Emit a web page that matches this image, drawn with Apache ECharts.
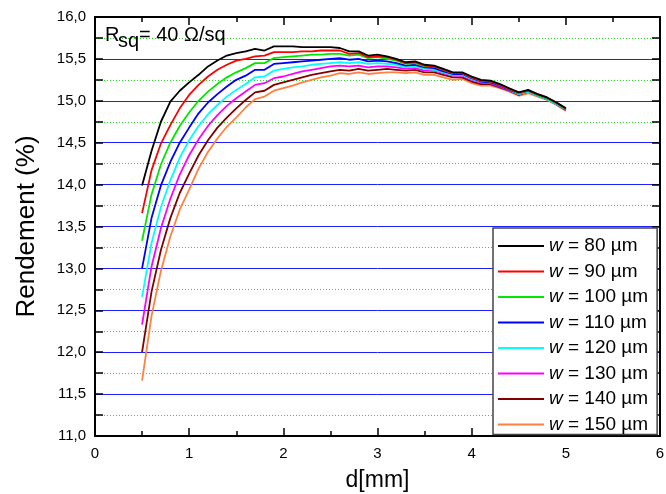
<!DOCTYPE html>
<html>
<head>
<meta charset="utf-8">
<script src="https://cdn.jsdelivr.net/npm/echarts@6/dist/echarts.min.js"></script>
<style>
  html, body { margin: 0; padding: 0; background: #fff; }
  #chart { width: 666px; height: 494px; }
</style>
</head>
<body>
<div id="chart"></div>
<script>
// Finger spacing d [mm]
const spacing = [0.5,0.6,0.7,0.8,0.9,1.0,1.1,1.2,1.3,1.4,1.5,1.6,1.7,1.8,1.9,2.0,2.1,2.2,2.3,2.4,2.5,2.6,2.7,2.8,2.9,3.0,3.1,3.2,3.3,3.4,3.5,3.6,3.7,3.8,3.9,4.0,4.1,4.2,4.3,4.4,4.5,4.6,4.7,4.8,4.9,5.0];

// Finger widths w [µm]
const widths = [80, 90, 100, 110, 120, 130, 140, 150];

// Efficiency (%) for each finger width
const eta80  = [13.99,14.40,14.75,14.99,15.12,15.22,15.31,15.41,15.48,15.54,15.57,15.59,15.62,15.60,15.65,15.65,15.65,15.64,15.64,15.64,15.64,15.63,15.59,15.59,15.54,15.55,15.53,15.50,15.46,15.47,15.43,15.42,15.38,15.34,15.34,15.29,15.25,15.24,15.20,15.15,15.10,15.13,15.08,15.04,14.98,14.91];
const eta90  = [13.66,14.17,14.49,14.71,14.91,15.07,15.19,15.29,15.37,15.43,15.48,15.50,15.53,15.54,15.58,15.58,15.58,15.59,15.59,15.60,15.60,15.60,15.56,15.57,15.52,15.53,15.52,15.49,15.45,15.46,15.42,15.41,15.37,15.33,15.33,15.28,15.24,15.23,15.19,15.14,15.10,15.12,15.08,15.04,14.98,14.91];
const eta100 = [13.33,13.88,14.24,14.50,14.70,14.86,15.00,15.11,15.20,15.28,15.34,15.39,15.45,15.45,15.51,15.52,15.53,15.54,15.55,15.55,15.56,15.56,15.54,15.55,15.51,15.52,15.50,15.48,15.44,15.45,15.41,15.41,15.37,15.33,15.33,15.28,15.24,15.23,15.19,15.14,15.09,15.12,15.07,15.03,14.97,14.90];
const eta110 = [13.00,13.60,13.99,14.27,14.50,14.68,14.85,14.98,15.08,15.17,15.25,15.30,15.37,15.37,15.44,15.45,15.46,15.47,15.48,15.49,15.50,15.51,15.49,15.50,15.47,15.48,15.47,15.45,15.42,15.43,15.40,15.39,15.35,15.32,15.32,15.27,15.23,15.22,15.18,15.13,15.09,15.12,15.07,15.03,14.97,14.90];
const eta120 = [12.66,13.30,13.73,14.05,14.32,14.53,14.70,14.84,14.95,15.05,15.13,15.20,15.28,15.29,15.36,15.38,15.40,15.41,15.43,15.44,15.45,15.46,15.45,15.46,15.44,15.45,15.44,15.43,15.40,15.41,15.38,15.37,15.34,15.31,15.31,15.26,15.23,15.22,15.18,15.13,15.08,15.11,15.06,15.02,14.96,14.90];
const eta130 = [12.33,13.02,13.48,13.83,14.12,14.35,14.54,14.70,14.83,14.94,15.03,15.11,15.19,15.21,15.27,15.29,15.32,15.35,15.37,15.39,15.41,15.42,15.41,15.42,15.40,15.41,15.41,15.40,15.38,15.39,15.36,15.36,15.33,15.30,15.30,15.25,15.22,15.21,15.17,15.12,15.08,15.11,15.06,15.02,14.96,14.89];
const eta140 = [12.00,12.72,13.22,13.60,13.90,14.13,14.35,14.53,14.68,14.80,14.91,15.01,15.10,15.12,15.19,15.22,15.25,15.28,15.31,15.33,15.35,15.37,15.36,15.38,15.36,15.37,15.38,15.37,15.36,15.37,15.34,15.34,15.31,15.28,15.28,15.23,15.20,15.20,15.16,15.12,15.07,15.11,15.06,15.02,14.96,14.89];
const eta150 = [11.66,12.43,12.97,13.38,13.70,13.94,14.19,14.39,14.55,14.69,14.80,14.92,15.02,15.05,15.12,15.15,15.18,15.22,15.25,15.28,15.30,15.33,15.32,15.34,15.32,15.33,15.34,15.34,15.33,15.34,15.31,15.31,15.28,15.25,15.26,15.21,15.18,15.18,15.15,15.11,15.06,15.09,15.05,15.01,14.95,14.88];

const efficiency = [eta80, eta90, eta100, eta110, eta120, eta130, eta140, eta150];
const lineColors = ['#000000', '#ff0000', '#00e800', '#0000ff', '#00ffff', '#ff00ff', '#800000', '#ff8040'];

const FONT = '"Liberation Sans", Arial, sans-serif';

const series = widths.map((w, i) => ({
  name: 'w = ' + w + ' \u00b5m',
  type: 'line',
  xAxisIndex: 0,
  yAxisIndex: 0,
  data: spacing.map((d, k) => [d, efficiency[i][k]]),
  symbol: 'none',
  showSymbol: false,
  color: lineColors[i],
  lineStyle: { width: 1.8, color: lineColors[i] },
  z: 3 + (widths.length - i)
}));

const frameAxis = {
  axisLine: { show: true, onZero: false, lineStyle: { color: '#000', width: 2 } },
  axisTick: { show: true, inside: true, length: 8, lineStyle: { color: '#000', width: 1.5 } },
  minorTick: { show: true, splitNumber: 2, length: 5, lineStyle: { color: '#000', width: 1.5 } }
};
const yMinorTick = { minorTick: { show: true, splitNumber: 2, length: 8, lineStyle: { color: '#000', width: 1.5 } } };

const chart = echarts.init(document.getElementById('chart'), null, { renderer: 'canvas' });
chart.setOption({
  animation: false,
  backgroundColor: '#fff',
  textStyle: { fontFamily: FONT },
  grid: { left: 95, top: 17, right: 6, bottom: 58, containLabel: false, outerBoundsMode: 'none' },
  xAxis: [
    Object.assign({
      type: 'value', min: 0, max: 6, interval: 1, position: 'bottom',
      name: 'd[mm]', nameLocation: 'middle', nameGap: 33,
      nameTextStyle: { fontSize: 23, color: '#000', fontFamily: FONT },
      axisLabel: { fontSize: 15, color: '#000', margin: 10, fontFamily: FONT },
      splitLine: { show: false }
    }, frameAxis),
    Object.assign({
      type: 'value', min: 0, max: 6, interval: 1, position: 'top',
      axisLabel: { show: false }, splitLine: { show: false }
    }, frameAxis)
  ],
  yAxis: [
    Object.assign({
      type: 'value', min: 11, max: 16, interval: 0.5, position: 'left',
      name: 'Rendement (%)', nameLocation: 'middle', nameGap: 55, nameRotate: 90,
      nameTextStyle: { fontSize: 26, color: '#000', fontFamily: FONT },
      axisLabel: {
        fontSize: 15, color: '#000', margin: 9, fontFamily: FONT,
        formatter: v => v.toFixed(1).replace('.', ',')
      },
      splitLine: { show: true, showMinLine: false, showMaxLine: false, lineStyle: { color: '#2020ff', width: 1 } },
      minorSplitLine: { show: true, lineStyle: { color: '#22dd22', width: 1, type: [1, 2] } }
    }, frameAxis, yMinorTick),
    Object.assign({
      type: 'value', min: 11, max: 16, interval: 0.5, position: 'right',
      axisLabel: { show: false }, splitLine: { show: false }
    }, frameAxis, yMinorTick)
  ],
  legend: {
    orient: 'vertical',
    left: 493, top: 228,
    padding: [8, 9, 0, 5],
    itemGap: 5.5,
    itemWidth: 46,
    itemHeight: 2,
    icon: 'rect',
    backgroundColor: '#fff',
    borderColor: '#444',
    borderWidth: 1.5,
    borderRadius: 0,
    data: series.map(s => s.name),
    formatter: name => '{i|w}' + name.slice(1),
    textStyle: {
      fontSize: 19, color: '#000', lineHeight: 20, fontFamily: FONT,
      rich: { i: { fontStyle: 'italic', fontSize: 19, color: '#000', fontFamily: FONT, lineHeight: 20 } }
    }
  },
  graphic: [
    { type: 'text', left: 105, top: 25, z: 100, style: { text: 'R', fontSize: 20, fill: '#000', fontFamily: FONT } },
    { type: 'text', left: 118, top: 31, z: 100, style: { text: 'sq', fontSize: 20, fill: '#000', fontFamily: FONT } },
    { type: 'text', left: 139, top: 25, z: 100, style: { text: '= 40 \u03a9/sq', fontSize: 20, fill: '#000', fontFamily: FONT } }
  ],
  series: series
});
</script>
</body>
</html>
